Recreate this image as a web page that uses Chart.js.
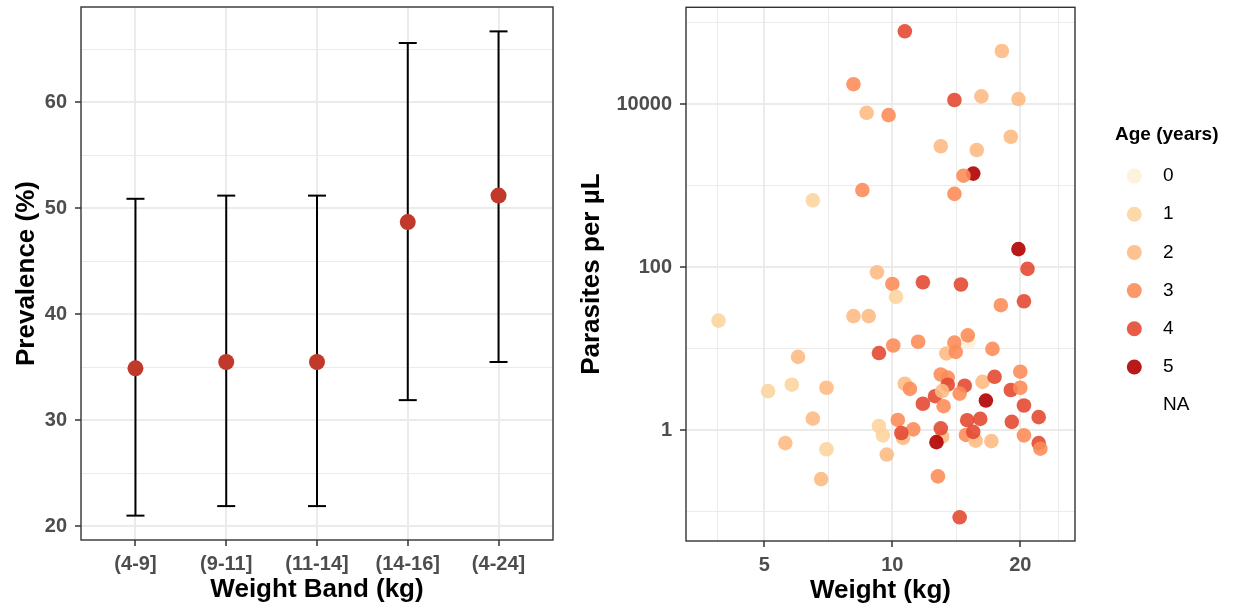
<!DOCTYPE html>
<html>
<head>
<meta charset="utf-8">
<title>Prevalence and parasite density by weight</title>
<script src="https://cdn.jsdelivr.net/npm/chart.js@4.4.1/dist/chart.umd.min.js"></script>
<style>
    html, body { margin: 0; padding: 0; background: #fff; }
    #wrap { position: relative; width: 1233px; height: 611px; overflow: hidden; }
    #prevChart { position: absolute; left: 0; top: -1px; width: 561px; height: 612px; }
    #densChart { position: absolute; left: 560px; top: 0; width: 673px; height: 611px; }
</style>
</head>
<body>
<div id="wrap">
    <canvas id="prevChart" width="561" height="612"></canvas>
    <canvas id="densChart" width="673" height="611"></canvas>
</div>
<script>
// ---- prevalence by weight band ----
var bandLabels = ['(4-9]', '(9-11]', '(11-14]', '(14-16]', '(4-24]'];
var prevalence = [34.9, 35.5, 35.5, 48.7, 51.2];
var ciLower = [21.0, 21.9, 21.9, 31.9, 35.5];
var ciUpper = [50.9, 51.2, 51.2, 65.6, 66.7];

var prevTicks = [20, 25, 30, 35, 40, 45, 50, 55, 60, 65];
var prevTickLabels = [20, 30, 40, 50, 60];

// ---- parasite density vs weight ----
var weightKg = [
    8.1, 8.7, 9.8, 8.5, 6.5, 9.2, 10.7, 18.1, 14.0, 16.2,
    19.8, 13.0, 15.8, 19.0, 15.5, 14.7, 14.0, 19.8, 20.8, 3.9,
    8.1, 8.8, 9.3, 6.0, 5.8, 5.1, 7.0, 6.5, 9.3, 9.5,
    5.6, 7.0, 9.7, 6.8, 10.0, 11.8, 14.5, 10.2, 18.0, 20.4,
    10.05, 11.5, 14.0, 15.1, 15.05, 13.4, 14.1, 17.2, 13.0, 10.7,
    11.0, 13.5, 13.5, 14.8, 16.3, 17.4, 20.0, 19.0, 20.0, 12.6,
    13.1, 14.4, 11.8, 13.2, 16.6, 20.4, 22.1, 19.1, 15.0, 16.1,
    14.9, 15.7, 17.1, 15.5, 10.3, 11.2, 10.6, 10.5, 13.1, 13.0,
    12.7, 20.4, 22.1, 22.3, 12.8, 14.4
];
var parasitesPerUL = [
    17500, 7800, 7300, 880, 660, 86, 78000, 44700, 11200, 12400,
    11500, 3030, 2730, 3970, 1400, 1320, 790, 166, 95, 22,
    25, 25, 8.8, 7.9, 3.6, 3.0, 3.3, 1.38, 1.12, 0.86,
    0.69, 0.58, 0.50, 0.25, 62, 65, 61, 43, 34, 38,
    10.9, 12.1, 11.8, 12.0, 14.5, 8.7, 9.1, 9.9, 4.8, 3.7,
    3.2, 4.4, 3.6, 3.5, 3.9, 4.5, 5.2, 3.1, 3.3, 2.6,
    3.0, 2.8, 2.1, 1.96, 2.3, 2.0, 1.44, 1.26, 1.32, 1.37,
    0.87, 0.74, 0.73, 0.95, 1.33, 1.02, 0.80, 0.92, 0.83, 1.05,
    0.71, 0.86, 0.69, 0.59, 0.27, 0.085
];
var ageYears = [
    3, 2, 3, 3, 1, 2, 4, 2, 4, 2,
    2, 2, 2, 2, 5, 3, 3, 5, 4, 1,
    2, 2, 4, 2, 1, 1, 2, 2, 1, 1,
    2, 1, 2, 2, 3, 4, 4, 1, 3, 4,
    3, 3, 3, 0, 3, 2, 3, 3, 3, 2,
    3, 3, 4, 4, 2, 4, 3, 4, 3, 4,
    2, 3, 4, 3, 5, 4, 4, 4, 4, 4,
    3, 2, 2, 4, 3, 3, 2, 4, 2, 4,
    5, 3, 4, 3, 3, 4
];

var weightTicks = [3.88, 5, 7.07, 10, 14.14, 20, 24.6];
var weightTickLabels = [5, 10, 20];
var densityTicks = [0.1, 1, 10, 100, 1000, 10000, 100000];
var densityTickLabels = [1, 100, 10000];

var ageLevels = ['0', '1', '2', '3', '4', '5', 'NA'];
var ageColours = [
    'rgba(254, 240, 217, 0.9)',
    'rgba(253, 212, 158, 0.9)',
    'rgba(253, 187, 132, 0.9)',
    'rgba(252, 141, 89, 0.9)',
    'rgba(227, 74, 51, 0.9)',
    'rgba(179, 0, 0, 0.9)',
    null
];

var FONT = '"Liberation Sans", Arial, Helvetica, sans-serif';
var GRID = '#ebebeb';
var TICK_DARK = '#333333';
var tickFont = { family: FONT, size: 20, weight: 'bold' };
var titleFont = { family: FONT, size: 26, weight: 'bold' };

function fixedTicks(values) {
    return function (scale) {
        scale.ticks = values.map(function (v) { return { value: v }; });
    };
}

// pin an axis box to a set size and stop it from pushing the plot area in
function fixedSize(prop, size) {
    return function (scale) {
        scale[prop] = size;
        scale.paddingLeft = scale.paddingRight = scale.paddingTop = scale.paddingBottom = 0;
    };
}

function inList(list, v) {
    return list.indexOf(v) !== -1;
}

// grid + tick styling shared by every continuous axis; labelled ticks are the major ones
function axisGrid(labelled, majorWidth, minorWidth) {
    return {
        color: GRID,
        lineWidth: function (c) { return c.tick && inList(labelled, c.tick.value) ? majorWidth : minorWidth; },
        tickLength: 6,
        tickWidth: 1.5,
        tickColor: function (c) { return c.tick && inList(labelled, c.tick.value) ? TICK_DARK : 'rgba(0,0,0,0)'; }
    };
}

function axisTicks(labelled, padding) {
    return {
        autoSkip: false,
        maxRotation: 0,
        padding: padding,
        font: tickFont,
        color: '#4d4d4d',
        callback: function (value) { return inList(labelled, value) ? String(value) : ''; }
    };
}

var panelBorder = {
    id: 'panelBorder',
    afterDatasetsDraw: function (chart) {
        var a = chart.chartArea;
        var ctx = chart.ctx;
        ctx.save();
        ctx.strokeStyle = '#333333';
        ctx.lineWidth = 1.4;
        ctx.strokeRect(a.left, a.top, a.right - a.left, a.bottom - a.top);
        ctx.restore();
    }
};

// legend for the age colour scale, drawn to the right of the panel
var ageLegend = {
    id: 'ageLegend',
    afterDraw: function (chart, args, opts) {
        var ctx = chart.ctx;
        ctx.save();
        ctx.textAlign = 'left';
        ctx.textBaseline = 'middle';
        ctx.fillStyle = '#000';
        ctx.font = 'bold 19px ' + FONT;
        ctx.fillText(opts.title, opts.x, opts.y);
        ctx.font = '19px ' + FONT;
        for (var i = 0; i < opts.labels.length; i++) {
            var cy = opts.y + 41 + i * 38.2;
            if (opts.colours[i]) {
                ctx.beginPath();
                ctx.fillStyle = opts.colours[i];
                ctx.arc(opts.x + 19.3, cy, 7.5, 0, Math.PI * 2);
                ctx.fill();
            }
            ctx.fillStyle = '#000';
            ctx.fillText(opts.labels[i], opts.x + 48, cy);
        }
        ctx.restore();
    }
};

// error bars as one broken line: gap, lower, upper, gap, ...
// (gap points get no cap so the line controller doesn't pad the plot area for them)
var ciPoints = [{ x: 1, y: null }];
for (var i = 0; i < bandLabels.length; i++) {
    ciPoints.push({ x: i + 1, y: ciLower[i] }, { x: i + 1, y: ciUpper[i] }, { x: i + 1, y: null });
}

new Chart(document.getElementById('prevChart'), {
    type: 'scatter',
    data: {
        datasets: [{
            type: 'scatter',
            data: prevalence.map(function (v, i) { return { x: i + 1, y: v }; }),
            pointRadius: 8,
            pointBorderWidth: 0,
            pointBackgroundColor: '#c0392b',
            order: 0
        }, {
            type: 'line',
            data: ciPoints,
            borderColor: '#000',
            borderWidth: 2,
            spanGaps: false,
            pointStyle: 'line',
            pointRadius: function (c) { return c.raw && c.raw.y !== null ? 9 : 0; },
            pointBorderWidth: function (c) { return c.raw && c.raw.y !== null ? 2 : 0; },
            pointBorderColor: '#000',
            order: 1
        }]
    },
    options: {
        responsive: false,
        animation: false,
        events: [],
        layout: { padding: { top: 7, right: 8, left: 0, bottom: 0 } },
        plugins: { legend: { display: false }, tooltip: { enabled: false } },
        scales: {
            x: {
                type: 'linear',
                min: 0.4,
                max: 5.6,
                afterBuildTicks: fixedTicks([1, 2, 3, 4, 5]),
                afterFit: fixedSize('height', 71),
                border: { display: false },
                grid: { color: GRID, lineWidth: 2, tickLength: 6, tickWidth: 1.5, tickColor: TICK_DARK },
                ticks: {
                    autoSkip: false,
                    maxRotation: 0,
                    padding: 6,
                    font: tickFont,
                    color: '#4d4d4d',
                    callback: function (value) { return bandLabels[value - 1]; }
                },
                title: { display: true, text: 'Weight Band (kg)', color: '#000', font: titleFont, padding: { top: 0, bottom: 6 } }
            },
            y: {
                type: 'linear',
                min: 18.7,
                max: 69,
                afterBuildTicks: fixedTicks(prevTicks),
                afterFit: fixedSize('width', 81),
                border: { display: false },
                grid: axisGrid(prevTickLabels, 2, 1),
                ticks: axisTicks(prevTickLabels, 8),
                title: { display: true, text: 'Prevalence (%)', color: '#000', font: titleFont, padding: { top: 11, bottom: 0 } }
            }
        }
    },
    plugins: [panelBorder]
});

new Chart(document.getElementById('densChart'), {
    type: 'scatter',
    data: {
        datasets: [{
            data: weightKg.map(function (w, i) { return { x: w, y: parasitesPerUL[i] }; }),
            pointRadius: 7.3,
            pointBorderWidth: 0,
            pointBackgroundColor: ageYears.map(function (a) { return ageColours[a]; })
        }]
    },
    options: {
        responsive: false,
        animation: false,
        events: [],
        layout: { padding: { top: 7, right: 158, left: 0, bottom: 0 } },
        plugins: {
            legend: { display: false },
            tooltip: { enabled: false },
            ageLegend: { title: 'Age (years)', labels: ageLevels, colours: ageColours, x: 555, y: 135 }
        },
        scales: {
            x: {
                type: 'logarithmic',
                min: 3.27,
                max: 26.9,
                afterBuildTicks: fixedTicks(weightTicks),
                afterFit: fixedSize('height', 70),
                border: { display: false },
                grid: axisGrid(weightTickLabels, 2, 1),
                ticks: axisTicks(weightTickLabels, 6),
                title: { display: true, text: 'Weight (kg)', color: '#000', font: titleFont, padding: { top: 0, bottom: 5 } }
            },
            y: {
                type: 'logarithmic',
                min: 0.0435,
                max: 153700,
                afterBuildTicks: fixedTicks(densityTicks),
                afterFit: fixedSize('width', 126),
                border: { display: false },
                grid: axisGrid(densityTickLabels, 2, 1),
                ticks: axisTicks(densityTickLabels, 8),
                title: { display: true, text: 'Parasites per µL', color: '#000', font: titleFont, padding: { top: 16, bottom: 0 } }
            }
        }
    },
    plugins: [panelBorder, ageLegend]
});
</script>
</body>
</html>
